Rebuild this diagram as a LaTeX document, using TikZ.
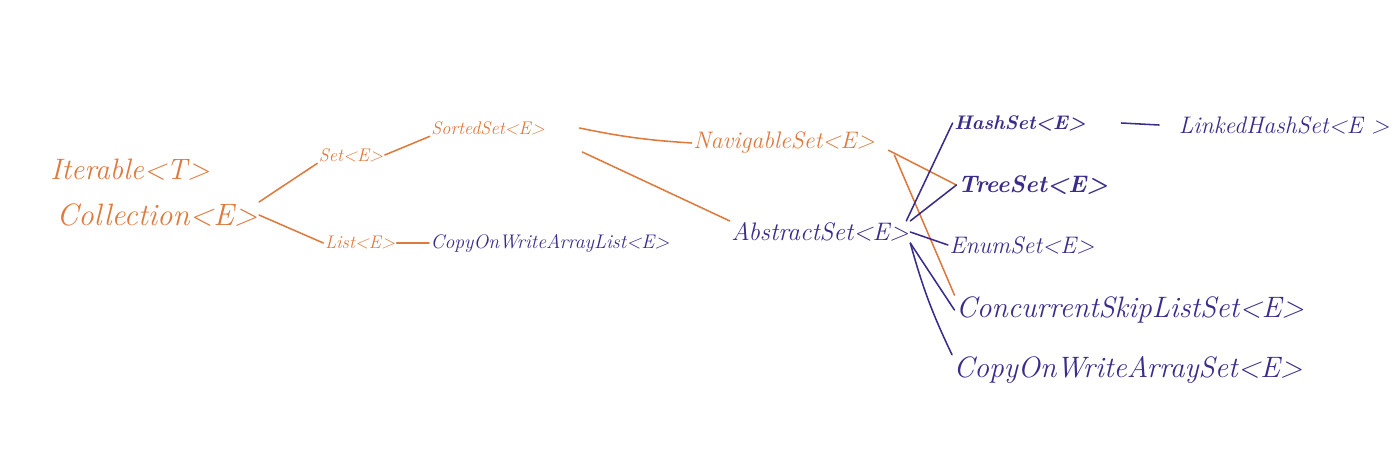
\documentclass[tikz,border=0pt]{standalone}
\usepackage{xcolor}
\usepackage{tikz}
\usetikzlibrary{positioning}
\definecolor{inkorange}{RGB}{222,122,62}
\definecolor{inkpurple}{RGB}{58,44,138}

\begin{document}
\begin{tikzpicture}[x=0.025cm, y=-0.025cm,
  iface/.style={inner sep=1pt, text=inkorange, font=\itshape},
  cls/.style={inner sep=1pt, text=inkpurple, font=\itshape},
  big/.style={font=\itshape\fontsize{21}{24}\selectfont},
  mid/.style={font=\itshape\fontsize{17}{20}\selectfont},
  small/.style={font=\itshape\fontsize{13}{15}\selectfont},
  heavy/.style={font=\bfseries\itshape\fontsize{14}{17}\selectfont},
  oline/.style={draw=inkorange, line width=1.1pt, line cap=round},
  pline/.style={draw=inkpurple, line width=1.1pt, line cap=round}
]
  \useasboundingbox (0,0) rectangle (1400,462);
  \node[iface, big]   (iter) at (130, 170) {Iterable<T>};
  \node[iface, big, font=\itshape\fontsize{22}{25}\selectfont]
                      (coll) at (157, 215) {Collection<E>};
  \node[iface, small] (set)  at (351, 155) {Set<E>};
  \node[iface, small] (sort) at (488, 128) {SortedSet<E>};
  \node[iface, small] (list) at (360, 243) {List<E>};
  \node[cls, small, font=\itshape\fontsize{14}{16}\selectfont]
                      (cowl) at (550, 243) {CopyOnWriteArrayList<E>};
  \node[iface, small, font=\itshape\fontsize{17}{19}\selectfont]
                      (nav)  at (784, 143) {NavigableSet<E>};
  \node[cls, mid, font=\itshape\fontsize{18}{21}\selectfont]
                      (abs)  at (820, 232) {AbstractSet<E>};
  \node[cls, heavy]   (hash) at (1020, 123) {HashSet<E>};
  \node[cls, mid]     (lhs)  at (1284, 125) {LinkedHashSet<E >};
  \node[cls, heavy, font=\bfseries\itshape\fontsize{17}{20}\selectfont]
                      (tree) at (1033, 185) {TreeSet<E>};
  \node[cls, mid]     (enum) at (1022, 245) {EnumSet<E>};
  \node[cls, big]     (csl)  at (1130, 310) {ConcurrentSkipListSet<E>};
  \node[cls, big]     (cows) at (1128, 370) {CopyOnWriteArraySet<E>};
  \draw[oline] (coll.north east) -- (set.south west);
  \draw[oline] (set.east) -- (sort.south west);
  \draw[oline] (coll.east) -- (list.west);
  \draw[oline] (list.east) -- (cowl.west);
  \draw[oline] ([xshift=0.83cm]sort.east) to[bend right=4] (nav.west);
  \draw[oline] ([xshift=0.9cm, yshift=-0.6cm]sort.east) -- (abs.north west);
  \draw[oline] ([xshift=0.3cm, yshift=-0.18cm]nav.east) -- (tree.west);
  \draw[oline] ([xshift=0.45cm, yshift=-0.3cm]nav.east) -- (csl.north west);
  \draw[pline] ([xshift=-0.1cm]abs.north east) -- (hash.west);
  \draw[pline] (abs.north east) -- (tree.west);
  \draw[pline] (abs.east) -- (enum.west);
  \draw[pline] (abs.south east) -- (csl.west);
  \draw[pline] (abs.south east) to[bend right=5] (cows.north west);
  \draw[pline] ([xshift=0.85cm]hash.east) -- ([xshift=-0.45cm]lhs.west);
\end{tikzpicture}
\end{document}
